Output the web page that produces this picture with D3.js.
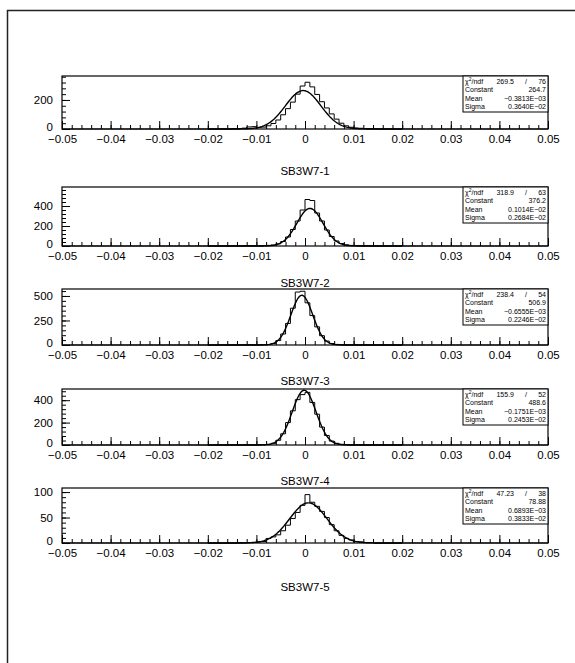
<!DOCTYPE html>
<html><head><meta charset="utf-8">
<script src="https://cdn.jsdelivr.net/npm/d3@7"></script>
<style>body{margin:0;background:#fff}svg{display:block}</style>
</head><body><svg id="c" width="575" height="663"></svg>
<script>
// ---------- data ----------
const titles = ["SB3W7-1","SB3W7-2","SB3W7-3","SB3W7-4","SB3W7-5"];
const binStart = -0.015;   // lower edge of first listed bin
const binWidth = 0.001;
const xMin = -0.05, xMax = 0.05;
const counts1 = [2,3,6,14,16,10,13,22,38,62,98,140,185,240,296,322,290,238,188,145,104,68,40,22,12,7,5,3,2,2];
const counts2 = [1,1,2,2,3,3,3,6,10,22,45,90,165,250,360,465,455,330,250,160,95,50,25,12,6,4,3,2,1,1];
const counts3 = [0,1,1,2,1,2,3,5,15,45,112,220,375,540,548,430,300,185,95,40,15,6,3,2,1,1,0,1,0,0];
const counts4 = [1,0,1,2,1,2,2,4,15,42,100,200,305,405,450,470,380,275,160,85,35,15,6,3,2,2,1,1,0,1];
const counts5 = [0,1,0,1,1,2,3,9,12,16,24,35,48,60,74,95,80,72,62,50,36,24,15,9,6,3,2,1,1,0];
const yMax = [365, 590, 571, 500, 108];
const yMajorTicks = [[0,200],[0,200,400],[0,250,500],[0,200,400],[0,50,100]];
const yMinorStep = [40, 40, 50, 40, 10];
const xTickValues = [-0.05,-0.04,-0.03,-0.02,-0.01,0,0.01,0.02,0.03,0.04,0.05];
const xTickLabels = ["\u22120.05","\u22120.04","\u22120.03","\u22120.02","\u22120.01","0","0.01","0.02","0.03","0.04","0.05"];
const chi2Text = ["269.5","318.9","238.4","155.9","47.23"];
const ndfText = ["76","63","54","52","38"];
const constText = ["264.7","376.2","506.9","488.6","78.88"];
const meanText = ["\u22120.3813E\u221203","0.1014E\u221202","\u22120.6555E\u221203","\u22120.1751E\u221203","0.6893E\u221203"];
const sigmaText = ["0.3640E\u221202","0.2684E\u221202","0.2246E\u221202","0.2453E\u221202","0.3833E\u221202"];
const fitConst = [264.7, 376.2, 506.9, 488.6, 78.88];
const fitMean = [-0.3813e-3, 0.1014e-2, -0.6555e-3, -0.1751e-3, 0.6893e-3];
const fitSigma = [0.3640e-2, 0.2684e-2, 0.2246e-2, 0.2453e-2, 0.3833e-2];
const fitRange = [-0.02, 0.02];

const allCounts = [counts1, counts2, counts3, counts4, counts5];

// ---------- layout ----------
const L = 62, R = 548;
const panelTop = [76, 187, 289, 389, 488];
const panelBot = [129, 246, 345, 445, 543];
const titleY = [171, 283, 381, 481, 587];
const FONT = "'Liberation Sans', Arial, sans-serif";
const svg = d3.select("#c");

svg.append("rect").attr("x", 7.5).attr("y", 10.5).attr("width", 600).attr("height", 700)
  .attr("fill", "none").attr("stroke", "#222").attr("stroke-width", 1.5);

const x = d3.scaleLinear().domain([xMin, xMax]).range([L, R]);
const nBins = Math.round((xMax - xMin) / binWidth);

allCounts.forEach((counts, k) => {
  const top = panelTop[k], bot = panelBot[k];
  const y = d3.scaleLinear().domain([0, yMax[k]]).range([bot, top]);
  const g = svg.append("g");

  // full histogram (zeros outside listed bins)
  const startIdx = Math.round((binStart - xMin) / binWidth);
  const bins = d3.range(nBins).map(i => {
    const j = i - startIdx;
    return {x0: xMin + i * binWidth, v: (j >= 0 && j < counts.length) ? counts[j] : 0};
  });
  const pts = bins.map(b => [b.x0, b.v]);
  pts.push([xMax, bins[bins.length - 1].v]);
  const line = d3.line().x(d => x(d[0])).y(d => y(d[1])).curve(d3.curveStepAfter);
  g.append("path").attr("d", line(pts)).attr("fill", "none").attr("stroke", "#000").attr("stroke-width", 1);

  // gaussian fit drawn from the fitted parameters
  const fx = d3.range(fitRange[0], fitRange[1] + 1e-9, 0.0002);
  const fit = d3.line().x(d => x(d)).y(d => y(fitConst[k] * Math.exp(-0.5 * Math.pow((d - fitMean[k]) / fitSigma[k], 2))));
  g.append("path").attr("d", fit(fx)).attr("fill", "none").attr("stroke", "#000").attr("stroke-width", 1.4);

  // x axis ticks (inward) and labels
  const xMinor = d3.range(-50, 51, 2).map(v => v / 1000);
  g.append("g").attr("transform", `translate(0,${bot})`)
    .call(d3.axisBottom(x).tickValues(xMinor).tickSize(-4).tickFormat(""))
    .call(a => a.select(".domain").remove());
  g.append("g").attr("transform", `translate(0,${bot})`)
    .call(d3.axisBottom(x).tickValues(xTickValues).tickSize(-8).tickPadding(6)
      .tickFormat((d, i) => xTickLabels[i]))
    .call(a => a.select(".domain").remove())
    .call(a => a.selectAll("text").attr("font-family", FONT).attr("font-size", 11.5).attr("fill", "#000"));

  // y axis
  const yMinor = d3.range(0, yMax[k] + 1e-9, yMinorStep[k]);
  g.append("g").attr("transform", `translate(${L},0)`)
    .call(d3.axisLeft(y).tickValues(yMinor).tickSize(-4).tickFormat(""))
    .call(a => a.select(".domain").remove());
  g.append("g").attr("transform", `translate(${L},0)`)
    .call(d3.axisLeft(y).tickValues(yMajorTicks[k]).tickSize(-8).tickPadding(9))
    .call(a => a.select(".domain").remove())
    .call(a => a.selectAll("text").attr("font-family", FONT).attr("font-size", 11.5).attr("fill", "#000")
      .attr("dy", d => d === 0 ? "0.12em" : "0.32em"));
  g.selectAll(".tick line").attr("stroke", "#000");

  // frame
  g.append("rect").attr("x", L).attr("y", top).attr("width", R - L).attr("height", bot - top)
    .attr("fill", "none").attr("stroke", "#000").attr("stroke-width", 1.2);

  // title
  g.append("text").attr("x", (L + R) / 2).attr("y", titleY[k] + 4).attr("text-anchor", "middle")
    .attr("font-family", FONT).attr("font-size", 11.5).text(titles[k]);

  // stats box
  const bw = 85, bh = 36, bx = R - bw, by = top;
  const sb = g.append("g");
  sb.append("rect").attr("x", bx).attr("y", by).attr("width", bw).attr("height", bh)
    .attr("fill", "#fff").attr("stroke", "#000").attr("stroke-width", 1);
  const fs = 7;
  const row = (i) => by + 7.5 + i * 8.6;
  const t0 = sb.append("text").attr("x", bx + 2).attr("y", row(0)).attr("font-family", FONT).attr("font-size", fs);
  t0.append("tspan").text("\u03c7");
  t0.append("tspan").attr("dy", -3).attr("font-size", 5).text("2");
  t0.append("tspan").attr("dy", 3).text("/ndf");
  sb.append("text").attr("x", bx + 51).attr("y", row(0)).attr("text-anchor", "end").attr("font-family", FONT).attr("font-size", fs).text(chi2Text[k]);
  sb.append("text").attr("x", bx + 63).attr("y", row(0)).attr("text-anchor", "middle").attr("font-family", FONT).attr("font-size", fs).text("/");
  sb.append("text").attr("x", bx + bw - 2).attr("y", row(0)).attr("text-anchor", "end").attr("font-family", FONT).attr("font-size", fs).text(ndfText[k]);
  const labels = ["Constant", "Mean", "Sigma"];
  const vals = [constText[k], meanText[k], sigmaText[k]];
  labels.forEach((lab, i) => {
    sb.append("text").attr("x", bx + 2).attr("y", row(i + 1)).attr("font-family", FONT).attr("font-size", fs).text(lab);
    sb.append("text").attr("x", bx + bw - 2).attr("y", row(i + 1)).attr("text-anchor", "end").attr("font-family", FONT).attr("font-size", fs).text(vals[i]);
  });
});
</script>
</body></html>
